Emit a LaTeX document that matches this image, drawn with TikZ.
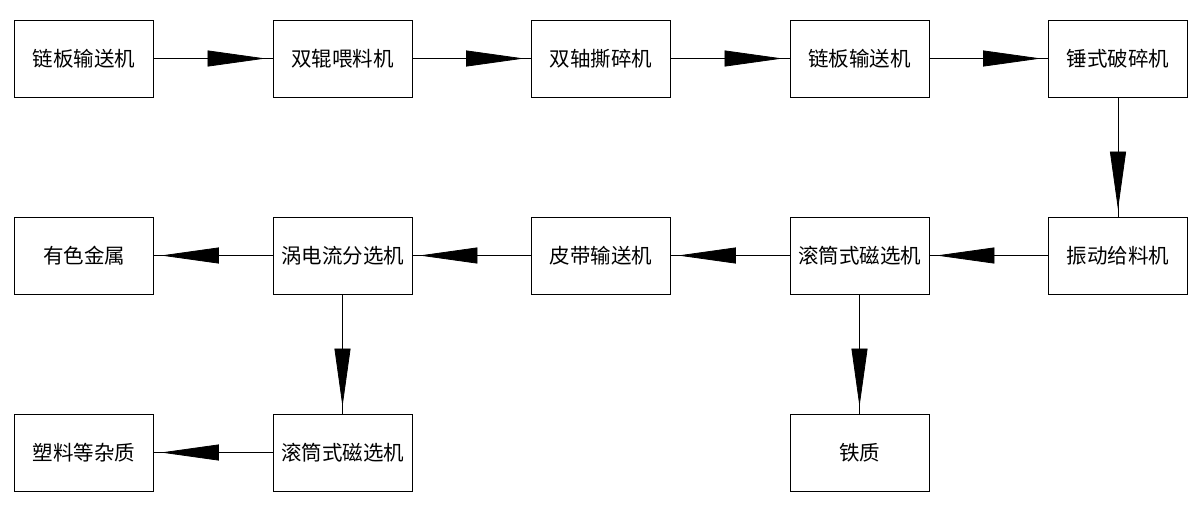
\documentclass[tikz,border=0pt]{standalone}
\usepackage{fontspec}
\setmainfont{Noto Sans CJK SC}
\usetikzlibrary{arrows.meta}

\begin{document}
\begin{tikzpicture}[x=1pt,y=-1pt]

	% styles
	\tikzset{box/.style={draw,line width=0.9pt,minimum width=139pt,minimum height=77pt,inner sep=0pt,font=\fontsize{20.5}{20.5}\selectfont},
		link/.style={line width=0.8pt},
		flow/.style={line width=0.8pt,-{Triangle[length=58pt,width=16pt]},shorten >=7pt}}

	\useasboundingbox (0,0) rectangle (1194,504);

	% top row
	\node[box] (chainA)   at (84,58.5)     {链板输送机};
	\node[box] (feeder)   at (342.5,58.5)  {双辊喂料机};
	\node[box] (shredder) at (601,58.5)    {双轴撕碎机};
	\node[box] (chainB)   at (859.5,58.5)  {链板输送机};
	\node[box] (hammer)   at (1118,58.5)   {锤式破碎机};

	% middle row
	\node[box] (nonfer)   at (84,255.5)    {有色金属};
	\node[box] (eddy)     at (342.5,255.5) {涡电流分选机};
	\node[box] (belt)     at (601,255.5)   {皮带输送机};
	\node[box] (magA)     at (859.5,255.5) {滚筒式磁选机};
	\node[box] (vibro)    at (1118,255.5)  {振动给料机};

	% bottom row
	\node[box] (plastic)  at (84,452.5)    {塑料等杂质};
	\node[box] (magB)     at (342.5,452.5) {滚筒式磁选机};
	\node[box] (iron)     at (859.5,452.5) {铁质};

	% connectors
	\foreach \from/\to in {chainA/feeder,feeder/shredder,shredder/chainB,chainB/hammer,
		hammer/vibro,vibro/magA,magA/belt,belt/eddy,eddy/nonfer,
		magA/iron,eddy/magB,magB/plastic}
	{
		\draw[link] (\from) -- (\to);
		\draw[flow] (\from) -- (\to);
	}

\end{tikzpicture}
\end{document}
